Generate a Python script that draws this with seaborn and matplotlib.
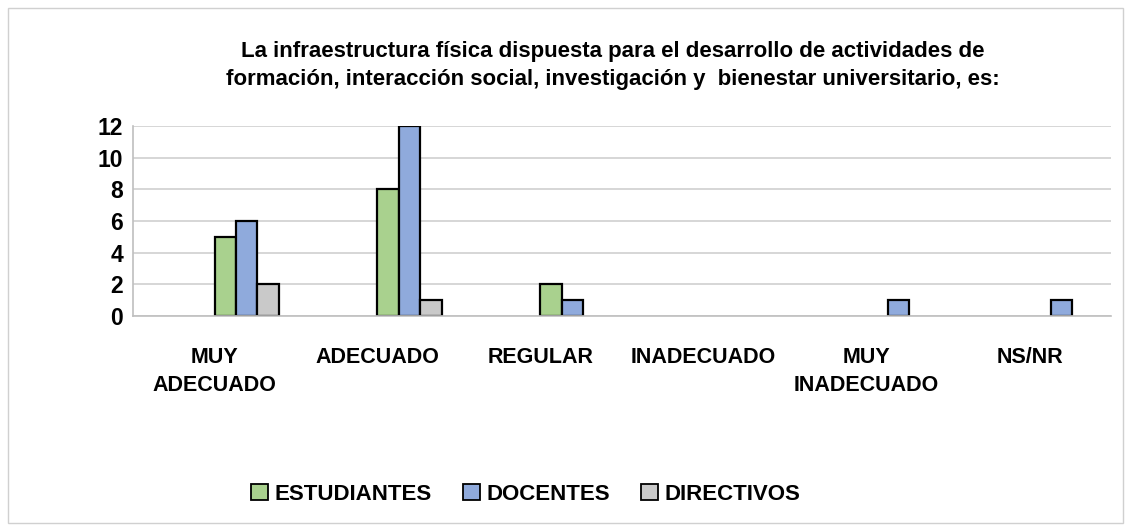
import matplotlib
matplotlib.use("Agg")
import matplotlib.pyplot as plt
import seaborn as sns
import pandas as pd
from matplotlib.patches import Patch, Rectangle

categories = ["MUY\nADECUADO", "ADECUADO", "REGULAR", "INADECUADO", "MUY\nINADECUADO", "NS/NR"]
estudiantes = [5, 8, 2, 0, 0, 0]
docentes = [6, 12, 1, 0, 1, 1]
directivos = [2, 1, 0, 0, 0, 0]
series_names = ["ESTUDIANTES", "DOCENTES", "DIRECTIVOS"]
hidden_names = [" ", "  ", "   "]
title = ("La infraestructura física dispuesta para el desarrollo de actividades de\n"
         "formación, interacción social, investigación y  bienestar universitario, es:")

colors = ["#A9D18E", "#8FAADC", "#C9C9C9"]

rows = []
for h in hidden_names:
    for c in categories:
        rows.append({"cat": c, "serie": h, "val": 0})
for name, vals in zip(series_names, [estudiantes, docentes, directivos]):
    for c, v in zip(categories, vals):
        rows.append({"cat": c, "serie": name, "val": v})
df = pd.DataFrame(rows)

sns.set_style("white")
plt.rcParams["font.family"] = ["Liberation Sans", "DejaVu Sans"]
plt.rcParams["font.weight"] = "bold"
plt.rcParams["text.color"] = "black"
plt.rcParams["xtick.color"] = "black"
plt.rcParams["ytick.color"] = "black"

fig = plt.figure(figsize=(11.31, 5.31), dpi=100)
ax = fig.add_axes([0.1176, 0.4049, 0.8647, 0.3578])

palette = dict(zip(hidden_names + series_names, ["white"] * 3 + colors))
sns.barplot(data=df, x="cat", y="val", hue="serie",
            hue_order=hidden_names + series_names, order=categories,
            palette=palette, width=0.79, edgecolor="black", linewidth=1.6,
            legend=False, ax=ax, saturation=1)
for p in ax.patches:
    if p.get_height() == 0:
        p.set_visible(False)

ax.set_ylim(0, 12)
ax.set_yticks(range(0, 13, 2))
ax.set_xlim(-0.5, 5.5)
ax.set_xlabel("")
ax.set_ylabel("")
ax.yaxis.grid(True, color="#D0D0D0", linewidth=1.2)
ax.set_axisbelow(True)
for s in ["top", "right"]:
    ax.spines[s].set_visible(False)
for s in ["left", "bottom"]:
    ax.spines[s].set_color("#BFBFBF")
    ax.spines[s].set_linewidth(1.2)
ax.tick_params(axis="x", length=0, pad=22, labelsize=15.5, labelcolor="black")
ax.tick_params(axis="y", length=0, pad=7, labelsize=16.5, labelcolor="black")
for t in ax.get_xticklabels():
    t.set_fontweight("bold")
    t.set_linespacing(1.45)
for t in ax.get_yticklabels():
    t.set_fontweight("bold")

fig.text(0.542, 0.877, title, ha="center", va="center", fontsize=16,
         fontweight="bold", linespacing=1.45, color="black")

handles = [Patch(facecolor=c, edgecolor="black", linewidth=1.3) for c in colors]
fig.legend(handles, series_names, loc="center", bbox_to_anchor=(0.465, 0.069),
           ncol=3, frameon=False, prop={"weight": "bold", "size": 16},
           handlelength=0.75, handleheight=0.75, handletextpad=0.3, columnspacing=1.4)

fig.patches.append(Rectangle((0.007, 0.015), 0.986, 0.97, transform=fig.transFigure,
                             fill=False, edgecolor="#D0D0D0", linewidth=1))

fig.savefig("out.png", dpi=100)
